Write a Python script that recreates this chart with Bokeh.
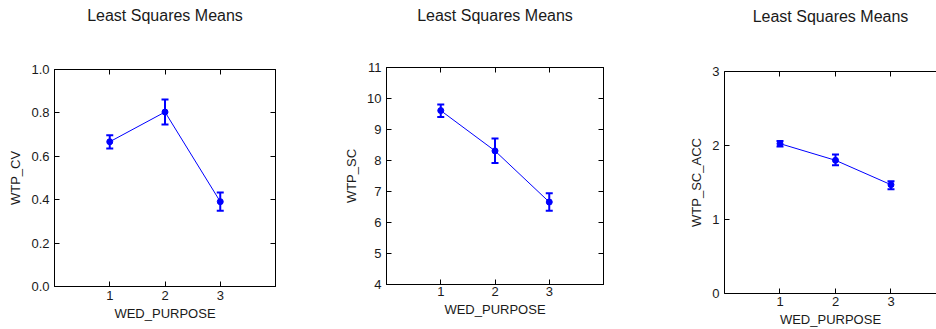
from bokeh.plotting import figure
from bokeh.models import (ColumnDataSource, Whisker, TeeHead, LinearAxis, FixedTicker, Range1d, Span)
from bokeh.layouts import row, column
from bokeh.embed import file_html
from bokeh.resources import INLINE

# ---- data ----
wed_purpose = [1, 2, 3]
x_ticks = [1, 2, 3]
title_text = "Least Squares Means"

wtp_cv_mean = [0.667, 0.804, 0.391]
wtp_cv_lo = [0.636, 0.746, 0.349]
wtp_cv_hi = [0.697, 0.862, 0.433]
wtp_cv_ticks = [0.0, 0.2, 0.4, 0.6, 0.8, 1.0]
wtp_cv_tick_labels = ["0.0", "0.2", "0.4", "0.6", "0.8", "1.0"]

wtp_sc_mean = [9.61, 8.31, 6.66]
wtp_sc_lo = [9.40, 7.92, 6.38]
wtp_sc_hi = [9.81, 8.71, 6.94]
wtp_sc_ticks = [4, 5, 6, 7, 8, 9, 10, 11]
wtp_sc_tick_labels = ["4", "5", "6", "7", "8", "9", "10", "11"]

wtp_acc_mean = [2.025, 1.80, 1.47]
wtp_acc_lo = [1.988, 1.733, 1.41]
wtp_acc_hi = [2.06, 1.88, 1.518]
wtp_acc_ticks = [0, 1, 2, 3]
wtp_acc_tick_labels = ["0", "1", "2", "3"]

FONT = "Liberation Sans"
BLUE = "#0000ff"
TXT = "#1a1a1a"


def style_axis(ax, labels=True, tick_standoff=5, label_standoff=4, line_height=1.2):
    ax.axis_line_color = "black"
    ax.axis_line_width = 1
    ax.major_tick_in = 5
    ax.major_tick_out = 0
    ax.major_tick_line_color = "black"
    ax.minor_tick_in = 0
    ax.minor_tick_out = 0
    ax.major_label_text_font = FONT
    ax.major_label_text_color = TXT
    ax.axis_label_text_font = FONT
    ax.axis_label_text_font_style = "normal"
    ax.axis_label_text_color = TXT
    ax.axis_label_text_font_size = "13px"
    ax.axis_label_standoff = label_standoff
    ax.axis_label_text_line_height = line_height
    ax.major_label_text_line_height = line_height
    if labels:
        ax.major_label_text_font_size = "13px"
        ax.major_label_standoff = tick_standoff
    else:
        ax.major_label_text_font_size = "0px"
        ax.major_label_text_color = None
        ax.major_label_text_alpha = 0
        ax.major_label_standoff = 0


def panel(width, b_left, b_right, b_top, b_bottom, y_start, y_end, x_end,
          yticks, ytick_labels, ylabel, mean, lo, hi, right_axis=True,
          title_standoff=45, xt_standoff=5, xl_standoff=4, outline=True,
          x_line_height=1.2):
    p = figure(width=width, height=329, output_backend="svg", toolbar_location=None,
               x_range=Range1d(0, x_end), y_range=Range1d(y_start, y_end),
               x_axis_location=None, y_axis_location=None,
               min_border_left=b_left, min_border_right=b_right,
               min_border_top=b_top, min_border_bottom=b_bottom)
    p.title.visible = False
    p.outline_line_color = "black" if outline else None
    p.xgrid.grid_line_color = None
    p.ygrid.grid_line_color = None
    p.background_fill_color = "white"
    p.border_fill_color = "white"

    xlab = {t: str(t) for t in x_ticks}
    ylab = {t: l for t, l in zip(yticks, ytick_labels)}

    bottom = LinearAxis(ticker=FixedTicker(ticks=x_ticks), axis_label="WED_PURPOSE",
                        major_label_overrides=xlab)
    style_axis(bottom, tick_standoff=xt_standoff, label_standoff=xl_standoff,
               line_height=x_line_height)
    p.add_layout(bottom, "below")

    left = LinearAxis(ticker=FixedTicker(ticks=yticks), axis_label=ylabel,
                      major_label_overrides=ylab)
    style_axis(left, tick_standoff=5, label_standoff=5)
    p.add_layout(left, "left")

    # top axis carries the panel heading as its label
    top = LinearAxis(ticker=FixedTicker(ticks=x_ticks), axis_label=title_text)
    style_axis(top, labels=False, label_standoff=title_standoff)
    top.axis_label_text_font_size = "16px"
    p.add_layout(top, "above")

    if right_axis:
        right = LinearAxis(ticker=FixedTicker(ticks=yticks))
        style_axis(right, labels=False, label_standoff=0)
        p.add_layout(right, "right")

    if not outline:
        # frame edges drawn at the range limits (right edge lies outside the window)
        p.add_layout(Span(location=p.x_range.start, dimension="height",
                          line_color="black", line_width=1))
        p.add_layout(Span(location=p.y_range.start, dimension="width",
                          line_color="black", line_width=1))
        p.add_layout(Span(location=p.y_range.end, dimension="width",
                          line_color="black", line_width=1))

    src = ColumnDataSource(dict(x=wed_purpose, m=mean, lo=lo, hi=hi))
    p.line("x", "m", source=src, line_color=BLUE, line_width=1)
    w = Whisker(base="x", upper="hi", lower="lo", source=src,
                line_color=BLUE, line_width=2,
                upper_head=TeeHead(size=7, line_color=BLUE, line_width=2),
                lower_head=TeeHead(size=7, line_color=BLUE, line_width=2))
    p.add_layout(w)
    p.scatter("x", "m", source=src, size=6, marker="circle",
              fill_color=BLUE, line_color=BLUE)
    return p


p1 = panel(320, 54, 45, 69, 43, 0.0, 1.0, 4,
           wtp_cv_ticks, wtp_cv_tick_labels, "WTP_CV",
           wtp_cv_mean, wtp_cv_lo, wtp_cv_hi, title_standoff=46,
           xt_standoff=4, xl_standoff=3)
p2 = panel(330, 66, 47, 67, 45, 4, 11, 4,
           wtp_sc_ticks, wtp_sc_tick_labels, "WTP_SC",
           wtp_sc_mean, wtp_sc_lo, wtp_sc_hi, title_standoff=44,
           xt_standoff=2, xl_standoff=3)
p3 = panel(286, 74, 0, 71, 35, 0, 3, 3.82,
           wtp_acc_ticks, wtp_acc_tick_labels, "WTP_SC_ACC",
           wtp_acc_mean, wtp_acc_lo, wtp_acc_hi, right_axis=False,
           title_standoff=47, xt_standoff=3, xl_standoff=3, outline=False,
           x_line_height=1.0)

layout = row(column(p1), column(p2), column(p3), spacing=0)

with open("out.html", "w") as f:
    f.write(file_html(layout, INLINE))
